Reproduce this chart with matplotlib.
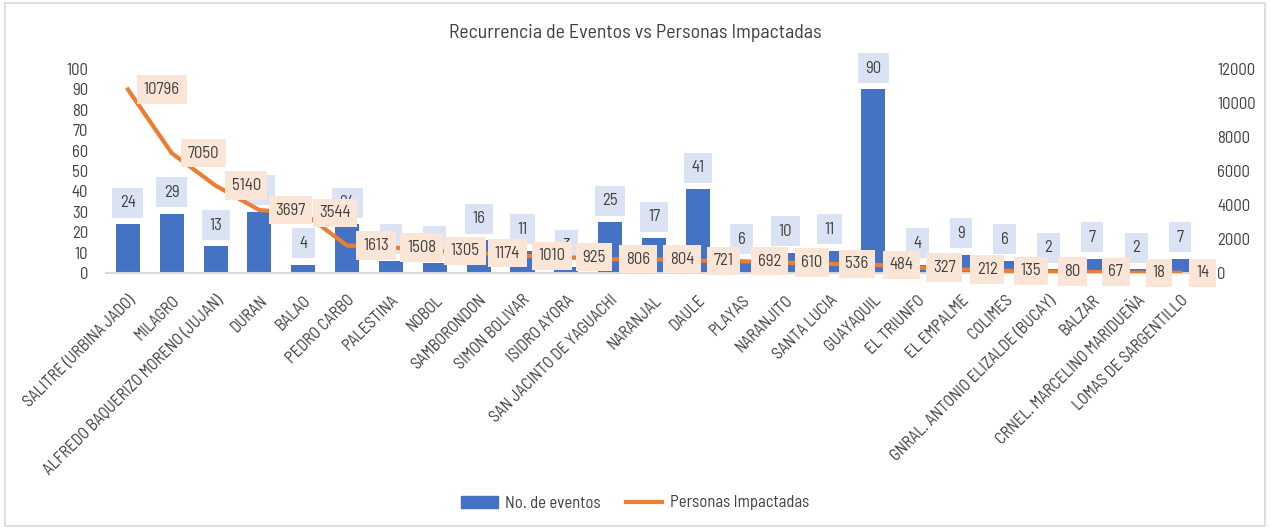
import matplotlib
matplotlib.use('Agg')
import matplotlib.pyplot as plt
from matplotlib.patches import Rectangle, Patch
from matplotlib.lines import Line2D
import numpy as np

plt.rcParams['font.family'] = ['Barlow Semi Condensed', 'Archivo Narrow', 'DejaVu Sans']

cantones = ['SALITRE (URBINA JADO)', 'MILAGRO', 'ALFREDO BAQUERIZO MORENO (JUJAN)', 'DURAN',
            'BALAO', 'PEDRO CARBO', 'PALESTINA', 'NOBOL', 'SAMBORONDON', 'SIMON BOLIVAR',
            'ISIDRO AYORA', 'SAN JACINTO DE YAGUACHI', 'NARANJAL', 'DAULE', 'PLAYAS',
            'NARANJITO', 'SANTA LUCIA', 'GUAYAQUIL', 'EL TRIUNFO', 'EL EMPALME', 'COLIMES',
            'GNRAL. ANTONIO ELIZALDE (BUCAY)', 'BALZAR', 'CRNEL. MARCELINO MARIDUEÑA',
            'LOMAS DE SARGENTILLO']
eventos = [24, 29, 13, 30, 4, 24, 6, 5, 16, 11, 3, 25, 17, 41, 6, 10, 11, 90, 4, 9, 6, 2, 7, 2, 7]
personas = [10796, 7050, 5140, 3697, 3544, 1613, 1508, 1305, 1174, 1010, 925, 806, 804, 721,
            692, 610, 536, 484, 327, 212, 135, 80, 67, 18, 14]

blue = '#4472C4'
orange = '#ED7D31'
txt = '#404040'
fs = 12

fig = plt.figure(figsize=(12.7, 5.28), dpi=100)
fig.patches.append(Rectangle((0.004, 0.004), 0.992, 0.99, transform=fig.transFigure,
                             fill=False, edgecolor='#d9d9d9', linewidth=1.2))
ax = fig.add_axes([106/1270, 1-273/528, (1202-106)/1270, (273-69)/528])
ax2 = ax.twinx()

x = np.arange(len(cantones))
ax.bar(x, eventos, width=0.55, color=blue, zorder=2)
ax.set_ylim(0, 100)
ax.set_yticks(np.arange(0, 101, 10))
ax.set_xlim(-0.5, len(cantones)-0.5)
ax.set_xticks(x)
ax.set_xticklabels(cantones, rotation=45, ha='right', va='top', rotation_mode='anchor',
                   fontsize=11.8, color=txt)
ax.tick_params(axis='y', labelsize=fs, colors=txt, length=0, pad=13)
ax.tick_params(axis='x', length=0, pad=14)
for s in ['top', 'right', 'left']:
    ax.spines[s].set_visible(False)
ax.spines['bottom'].set_color('#d9d9d9')
ax.spines['bottom'].set_linewidth(1.5)

for xi, v in zip(x, eventos):
    ax.annotate(str(v), (xi, v), xytext=(0, 10), textcoords='offset points',
                ha='center', va='bottom', fontsize=fs, color=txt, zorder=3,
                bbox=dict(boxstyle='square,pad=0.45', fc='#dae3f3', ec='none'))

ax2.plot(x, personas, color=orange, linewidth=3, zorder=2)
ax2.set_ylim(0, 12000)
ax2.set_yticks(np.arange(0, 12001, 2000))
ax2.tick_params(axis='y', labelsize=fs, colors=txt, length=0, pad=11)
for s in ['top', 'right', 'left', 'bottom']:
    ax2.spines[s].set_visible(False)

for xi, v in zip(x, personas):
    ax2.annotate(str(v), (xi, v), xytext=(11.5, 0), textcoords='offset points',
                 ha='left', va='center', fontsize=fs, color=txt, zorder=3,
                 bbox=dict(boxstyle='square,pad=0.4', fc='#fbe5d6', ec='none'))

fig.text(0.5, 1-33/528, 'Recurrencia de Eventos vs Personas Impactadas', ha='center', va='center',
         fontsize=14.3, color=txt)

handles = [Patch(color=blue), Line2D([0], [0], color=orange, linewidth=3)]
fig.legend(handles, ['No. de eventos', 'Personas Impactadas'], loc='center',
           bbox_to_anchor=(0.5, 1-503/528), ncol=2, frameon=False, fontsize=fs,
           labelcolor=txt, handlelength=2.2, handletextpad=0.45, columnspacing=1.5)

fig.savefig('out.png', dpi=100)
